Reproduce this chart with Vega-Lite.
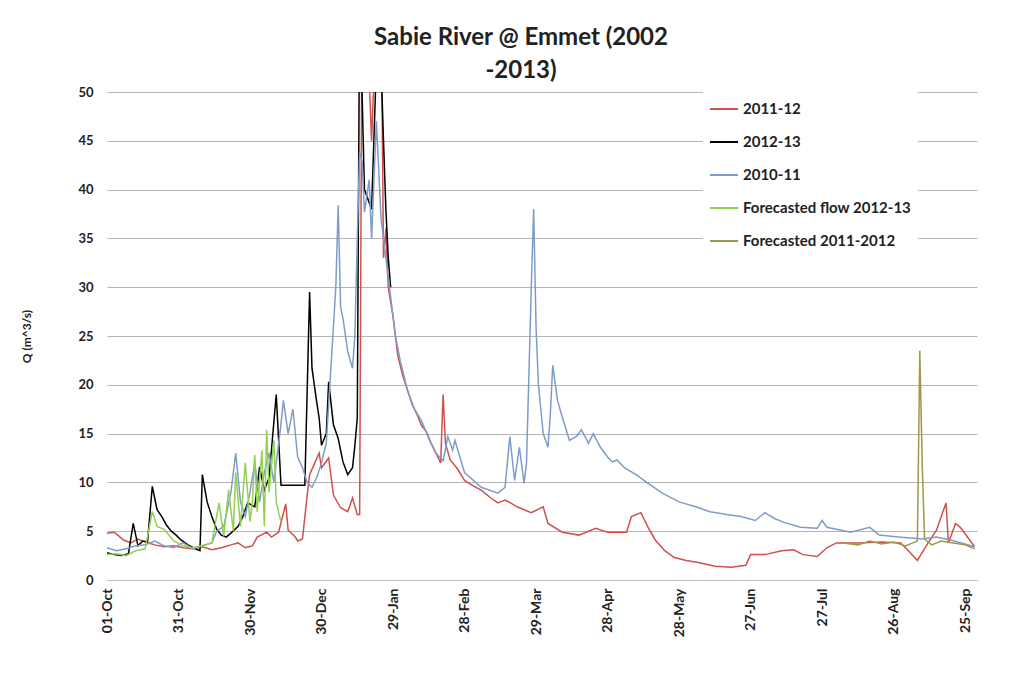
{
  "$schema": "https://vega.github.io/schema/vega-lite/v6.json",
  "width": 870,
  "height": 488,
  "autosize": {"type": "none"},
  "padding": {"left": 107, "top": 92, "right": 39, "bottom": 93},
  "background": "white",
  "title": {
    "text": ["Sabie River @ Emmet (2002", "-2013)"],
    "font": "Lato",
    "fontSize": 24,
    "fontWeight": "bold",
    "color": "#222222",
    "lineHeight": 33,
    "anchor": "middle",
    "dx": -21,
    "offset": 3
  },
  "data": {
    "values": [
      {"d":0,"q":4.8,"s":"2011-12"},{"d":3,"q":4.9,"s":"2011-12"},{"d":5,"q":4.5,"s":"2011-12"},{"d":7,"q":4.1,"s":"2011-12"},{"d":10,"q":3.8,"s":"2011-12"},{"d":13,"q":4.2,"s":"2011-12"},{"d":16,"q":3.9,"s":"2011-12"},{"d":20,"q":3.6,"s":"2011-12"},{"d":24,"q":3.4,"s":"2011-12"},{"d":28,"q":3.5,"s":"2011-12"},{"d":32,"q":3.3,"s":"2011-12"},{"d":36,"q":3.2,"s":"2011-12"},{"d":40,"q":3.4,"s":"2011-12"},{"d":44,"q":3.1,"s":"2011-12"},{"d":48,"q":3.3,"s":"2011-12"},{"d":52,"q":3.6,"s":"2011-12"},{"d":55,"q":3.8,"s":"2011-12"},{"d":58,"q":3.3,"s":"2011-12"},{"d":61,"q":3.5,"s":"2011-12"},{"d":63,"q":4.4,"s":"2011-12"},{"d":67,"q":4.9,"s":"2011-12"},{"d":69,"q":4.4,"s":"2011-12"},{"d":72,"q":4.9,"s":"2011-12"},{"d":75,"q":7.8,"s":"2011-12"},{"d":76,"q":5.1,"s":"2011-12"},{"d":79,"q":4.4,"s":"2011-12"},{"d":80,"q":4.0,"s":"2011-12"},{"d":82,"q":4.2,"s":"2011-12"},{"d":84,"q":8.7,"s":"2011-12"},{"d":85,"q":10.8,"s":"2011-12"},{"d":89,"q":13,"s":"2011-12"},{"d":90,"q":11.5,"s":"2011-12"},{"d":93,"q":12.5,"s":"2011-12"},{"d":95,"q":8.7,"s":"2011-12"},{"d":98,"q":7.4,"s":"2011-12"},{"d":101,"q":7.0,"s":"2011-12"},{"d":103,"q":8.4,"s":"2011-12"},{"d":105,"q":6.7,"s":"2011-12"},{"d":106,"q":6.7,"s":"2011-12"},{"d":107,"q":60,"s":"2011-12"},{"d":109,"q":58,"s":"2011-12"},{"d":111,"q":45,"s":"2011-12"},{"d":113,"q":58,"s":"2011-12"},{"d":115,"q":60,"s":"2011-12"},{"d":116,"q":33,"s":"2011-12"},{"d":117,"q":36,"s":"2011-12"},{"d":118,"q":30,"s":"2011-12"},{"d":120,"q":27,"s":"2011-12"},{"d":122,"q":23,"s":"2011-12"},{"d":124,"q":21,"s":"2011-12"},{"d":126,"q":19.5,"s":"2011-12"},{"d":128,"q":18,"s":"2011-12"},{"d":130,"q":17,"s":"2011-12"},{"d":132,"q":15.8,"s":"2011-12"},{"d":134,"q":15.2,"s":"2011-12"},{"d":136,"q":14,"s":"2011-12"},{"d":138,"q":13,"s":"2011-12"},{"d":140,"q":12,"s":"2011-12"},{"d":141,"q":19,"s":"2011-12"},{"d":142,"q":14,"s":"2011-12"},{"d":144,"q":12.3,"s":"2011-12"},{"d":147,"q":11.4,"s":"2011-12"},{"d":150,"q":10.2,"s":"2011-12"},{"d":154,"q":9.6,"s":"2011-12"},{"d":157,"q":9.2,"s":"2011-12"},{"d":161,"q":8.4,"s":"2011-12"},{"d":164,"q":7.9,"s":"2011-12"},{"d":167,"q":8.2,"s":"2011-12"},{"d":170,"q":7.8,"s":"2011-12"},{"d":172,"q":7.5,"s":"2011-12"},{"d":178,"q":6.9,"s":"2011-12"},{"d":183,"q":7.5,"s":"2011-12"},{"d":185,"q":5.8,"s":"2011-12"},{"d":191,"q":4.9,"s":"2011-12"},{"d":198,"q":4.6,"s":"2011-12"},{"d":205,"q":5.3,"s":"2011-12"},{"d":210,"q":4.9,"s":"2011-12"},{"d":218,"q":4.9,"s":"2011-12"},{"d":220,"q":6.5,"s":"2011-12"},{"d":224,"q":6.9,"s":"2011-12"},{"d":227,"q":5.4,"s":"2011-12"},{"d":230,"q":4.1,"s":"2011-12"},{"d":234,"q":3.0,"s":"2011-12"},{"d":238,"q":2.3,"s":"2011-12"},{"d":243,"q":2.0,"s":"2011-12"},{"d":248,"q":1.8,"s":"2011-12"},{"d":255,"q":1.4,"s":"2011-12"},{"d":262,"q":1.3,"s":"2011-12"},{"d":268,"q":1.5,"s":"2011-12"},{"d":270,"q":2.6,"s":"2011-12"},{"d":276,"q":2.6,"s":"2011-12"},{"d":283,"q":3.0,"s":"2011-12"},{"d":288,"q":3.1,"s":"2011-12"},{"d":292,"q":2.6,"s":"2011-12"},{"d":298,"q":2.4,"s":"2011-12"},{"d":302,"q":3.3,"s":"2011-12"},{"d":306,"q":3.8,"s":"2011-12"},{"d":315,"q":3.8,"s":"2011-12"},{"d":325,"q":3.9,"s":"2011-12"},{"d":333,"q":3.8,"s":"2011-12"},{"d":337,"q":2.8,"s":"2011-12"},{"d":340,"q":2.0,"s":"2011-12"},{"d":342,"q":2.8,"s":"2011-12"},{"d":345,"q":4.0,"s":"2011-12"},{"d":348,"q":5.1,"s":"2011-12"},{"d":352,"q":7.9,"s":"2011-12"},{"d":353,"q":3.8,"s":"2011-12"},{"d":356,"q":5.8,"s":"2011-12"},{"d":358,"q":5.4,"s":"2011-12"},{"d":361,"q":4.4,"s":"2011-12"},{"d":364,"q":3.4,"s":"2011-12"},

      {"d":0,"q":2.8,"s":"2012-13"},{"d":3,"q":2.6,"s":"2012-13"},{"d":6,"q":2.5,"s":"2012-13"},{"d":9,"q":2.7,"s":"2012-13"},{"d":11,"q":5.8,"s":"2012-13"},{"d":13,"q":3.5,"s":"2012-13"},{"d":15,"q":4.0,"s":"2012-13"},{"d":17,"q":3.9,"s":"2012-13"},{"d":19,"q":9.6,"s":"2012-13"},{"d":21,"q":7.2,"s":"2012-13"},{"d":23,"q":6.5,"s":"2012-13"},{"d":25,"q":5.6,"s":"2012-13"},{"d":27,"q":5.0,"s":"2012-13"},{"d":29,"q":4.6,"s":"2012-13"},{"d":31,"q":4.1,"s":"2012-13"},{"d":34,"q":3.6,"s":"2012-13"},{"d":37,"q":3.2,"s":"2012-13"},{"d":39,"q":3.0,"s":"2012-13"},{"d":40,"q":10.8,"s":"2012-13"},{"d":42,"q":8.0,"s":"2012-13"},{"d":44,"q":6.5,"s":"2012-13"},{"d":46,"q":5.2,"s":"2012-13"},{"d":48,"q":4.6,"s":"2012-13"},{"d":50,"q":4.4,"s":"2012-13"},{"d":52,"q":4.8,"s":"2012-13"},{"d":55,"q":5.5,"s":"2012-13"},{"d":57,"q":6.5,"s":"2012-13"},{"d":59,"q":7.9,"s":"2012-13"},{"d":62,"q":7.5,"s":"2012-13"},{"d":64,"q":11.6,"s":"2012-13"},{"d":66,"q":9.2,"s":"2012-13"},{"d":68,"q":10.5,"s":"2012-13"},{"d":71,"q":19,"s":"2012-13"},{"d":73,"q":9.7,"s":"2012-13"},{"d":83,"q":9.7,"s":"2012-13"},{"d":85,"q":29.5,"s":"2012-13"},{"d":86,"q":21.7,"s":"2012-13"},{"d":88,"q":18.2,"s":"2012-13"},{"d":89,"q":16.6,"s":"2012-13"},{"d":90,"q":13.8,"s":"2012-13"},{"d":92,"q":15,"s":"2012-13"},{"d":93,"q":20.3,"s":"2012-13"},{"d":95,"q":15.9,"s":"2012-13"},{"d":97,"q":14.5,"s":"2012-13"},{"d":99,"q":12.1,"s":"2012-13"},{"d":101,"q":10.8,"s":"2012-13"},{"d":103,"q":11.5,"s":"2012-13"},{"d":104,"q":13.8,"s":"2012-13"},{"d":105,"q":16.6,"s":"2012-13"},{"d":106,"q":60,"s":"2012-13"},{"d":108,"q":40,"s":"2012-13"},{"d":111,"q":38,"s":"2012-13"},{"d":114,"q":60,"s":"2012-13"},{"d":116,"q":45,"s":"2012-13"},{"d":117,"q":38,"s":"2012-13"},{"d":118,"q":33,"s":"2012-13"},{"d":119,"q":30,"s":"2012-13"},

      {"d":0,"q":3.3,"s":"2010-11"},{"d":4,"q":3.0,"s":"2010-11"},{"d":8,"q":3.2,"s":"2010-11"},{"d":12,"q":3.5,"s":"2010-11"},{"d":16,"q":3.6,"s":"2010-11"},{"d":20,"q":4.0,"s":"2010-11"},{"d":24,"q":3.5,"s":"2010-11"},{"d":28,"q":3.3,"s":"2010-11"},{"d":32,"q":3.8,"s":"2010-11"},{"d":36,"q":3.2,"s":"2010-11"},{"d":40,"q":3.5,"s":"2010-11"},{"d":44,"q":3.8,"s":"2010-11"},{"d":46,"q":5.0,"s":"2010-11"},{"d":49,"q":5.5,"s":"2010-11"},{"d":52,"q":9.0,"s":"2010-11"},{"d":54,"q":13,"s":"2010-11"},{"d":56,"q":8.0,"s":"2010-11"},{"d":58,"q":6.5,"s":"2010-11"},{"d":60,"q":9.0,"s":"2010-11"},{"d":62,"q":12,"s":"2010-11"},{"d":64,"q":8.0,"s":"2010-11"},{"d":66,"q":11,"s":"2010-11"},{"d":68,"q":13,"s":"2010-11"},{"d":70,"q":10,"s":"2010-11"},{"d":73,"q":16,"s":"2010-11"},{"d":74,"q":18.4,"s":"2010-11"},{"d":76,"q":15,"s":"2010-11"},{"d":78,"q":17.5,"s":"2010-11"},{"d":80,"q":12.6,"s":"2010-11"},{"d":82,"q":11.5,"s":"2010-11"},{"d":84,"q":10,"s":"2010-11"},{"d":86,"q":9.5,"s":"2010-11"},{"d":88,"q":10.5,"s":"2010-11"},{"d":90,"q":12,"s":"2010-11"},{"d":92,"q":14,"s":"2010-11"},{"d":94,"q":22,"s":"2010-11"},{"d":96,"q":30,"s":"2010-11"},{"d":97,"q":38.4,"s":"2010-11"},{"d":98,"q":28,"s":"2010-11"},{"d":99,"q":26.8,"s":"2010-11"},{"d":101,"q":23.4,"s":"2010-11"},{"d":103,"q":21.7,"s":"2010-11"},{"d":104,"q":25,"s":"2010-11"},{"d":105,"q":35,"s":"2010-11"},{"d":106,"q":43.8,"s":"2010-11"},{"d":107,"q":43,"s":"2010-11"},{"d":108,"q":37.7,"s":"2010-11"},{"d":110,"q":41,"s":"2010-11"},{"d":111,"q":35,"s":"2010-11"},{"d":113,"q":47,"s":"2010-11"},{"d":115,"q":37,"s":"2010-11"},{"d":117,"q":33,"s":"2010-11"},{"d":119,"q":29,"s":"2010-11"},{"d":121,"q":25,"s":"2010-11"},{"d":123,"q":22.5,"s":"2010-11"},{"d":126,"q":19.5,"s":"2010-11"},{"d":129,"q":17.5,"s":"2010-11"},{"d":132,"q":16.3,"s":"2010-11"},{"d":135,"q":14.5,"s":"2010-11"},{"d":138,"q":13,"s":"2010-11"},{"d":141,"q":12.2,"s":"2010-11"},{"d":143,"q":14.7,"s":"2010-11"},{"d":145,"q":13.3,"s":"2010-11"},{"d":146,"q":14.3,"s":"2010-11"},{"d":150,"q":11,"s":"2010-11"},{"d":157,"q":9.5,"s":"2010-11"},{"d":164,"q":8.9,"s":"2010-11"},{"d":167,"q":9.5,"s":"2010-11"},{"d":169,"q":14.7,"s":"2010-11"},{"d":171,"q":10.2,"s":"2010-11"},{"d":173,"q":13.6,"s":"2010-11"},{"d":175,"q":9.9,"s":"2010-11"},{"d":176,"q":12,"s":"2010-11"},{"d":178,"q":30,"s":"2010-11"},{"d":179,"q":38,"s":"2010-11"},{"d":180,"q":26,"s":"2010-11"},{"d":181,"q":20,"s":"2010-11"},{"d":183,"q":15,"s":"2010-11"},{"d":185,"q":13.6,"s":"2010-11"},{"d":186,"q":17,"s":"2010-11"},{"d":187,"q":22,"s":"2010-11"},{"d":189,"q":18.4,"s":"2010-11"},{"d":191,"q":16.7,"s":"2010-11"},{"d":194,"q":14.3,"s":"2010-11"},{"d":197,"q":14.7,"s":"2010-11"},{"d":199,"q":15.4,"s":"2010-11"},{"d":202,"q":14,"s":"2010-11"},{"d":204,"q":15,"s":"2010-11"},{"d":207,"q":13.6,"s":"2010-11"},{"d":210,"q":12.6,"s":"2010-11"},{"d":212,"q":12.1,"s":"2010-11"},{"d":214,"q":12.3,"s":"2010-11"},{"d":217,"q":11.5,"s":"2010-11"},{"d":222,"q":10.8,"s":"2010-11"},{"d":227,"q":9.9,"s":"2010-11"},{"d":233,"q":8.9,"s":"2010-11"},{"d":240,"q":8.0,"s":"2010-11"},{"d":247,"q":7.5,"s":"2010-11"},{"d":253,"q":7.0,"s":"2010-11"},{"d":260,"q":6.7,"s":"2010-11"},{"d":266,"q":6.5,"s":"2010-11"},{"d":272,"q":6.1,"s":"2010-11"},{"d":276,"q":6.9,"s":"2010-11"},{"d":280,"q":6.3,"s":"2010-11"},{"d":284,"q":5.9,"s":"2010-11"},{"d":291,"q":5.4,"s":"2010-11"},{"d":298,"q":5.3,"s":"2010-11"},{"d":300,"q":6.1,"s":"2010-11"},{"d":302,"q":5.4,"s":"2010-11"},{"d":312,"q":4.9,"s":"2010-11"},{"d":320,"q":5.4,"s":"2010-11"},{"d":324,"q":4.6,"s":"2010-11"},{"d":332,"q":4.4,"s":"2010-11"},{"d":337,"q":4.3,"s":"2010-11"},{"d":342,"q":4.2,"s":"2010-11"},{"d":348,"q":4.4,"s":"2010-11"},{"d":354,"q":4.1,"s":"2010-11"},{"d":364,"q":3.4,"s":"2010-11"},

      {"d":0,"q":2.6,"s":"Forecasted flow 2012-13"},{"d":4,"q":2.7,"s":"Forecasted flow 2012-13"},{"d":8,"q":2.5,"s":"Forecasted flow 2012-13"},{"d":12,"q":3.0,"s":"Forecasted flow 2012-13"},{"d":16,"q":3.2,"s":"Forecasted flow 2012-13"},{"d":19,"q":7.0,"s":"Forecasted flow 2012-13"},{"d":21,"q":5.5,"s":"Forecasted flow 2012-13"},{"d":24,"q":5.2,"s":"Forecasted flow 2012-13"},{"d":28,"q":4.0,"s":"Forecasted flow 2012-13"},{"d":32,"q":3.5,"s":"Forecasted flow 2012-13"},{"d":36,"q":3.3,"s":"Forecasted flow 2012-13"},{"d":40,"q":3.5,"s":"Forecasted flow 2012-13"},{"d":44,"q":3.8,"s":"Forecasted flow 2012-13"},{"d":47,"q":7.9,"s":"Forecasted flow 2012-13"},{"d":49,"q":4.5,"s":"Forecasted flow 2012-13"},{"d":51,"q":9.2,"s":"Forecasted flow 2012-13"},{"d":53,"q":5.0,"s":"Forecasted flow 2012-13"},{"d":54,"q":11,"s":"Forecasted flow 2012-13"},{"d":56,"q":5.5,"s":"Forecasted flow 2012-13"},{"d":58,"q":12,"s":"Forecasted flow 2012-13"},{"d":60,"q":6.0,"s":"Forecasted flow 2012-13"},{"d":61,"q":8.0,"s":"Forecasted flow 2012-13"},{"d":62,"q":12.8,"s":"Forecasted flow 2012-13"},{"d":63,"q":7.0,"s":"Forecasted flow 2012-13"},{"d":65,"q":13.3,"s":"Forecasted flow 2012-13"},{"d":66,"q":5.5,"s":"Forecasted flow 2012-13"},{"d":67,"q":15.4,"s":"Forecasted flow 2012-13"},{"d":68,"q":9.0,"s":"Forecasted flow 2012-13"},{"d":70,"q":14.3,"s":"Forecasted flow 2012-13"},{"d":71,"q":8.0,"s":"Forecasted flow 2012-13"},{"d":72,"q":6.9,"s":"Forecasted flow 2012-13"},{"d":73,"q":6.0,"s":"Forecasted flow 2012-13"},

      {"d":309,"q":3.8,"s":"Forecasted 2011-2012"},{"d":315,"q":3.6,"s":"Forecasted 2011-2012"},{"d":320,"q":4.0,"s":"Forecasted 2011-2012"},{"d":325,"q":3.7,"s":"Forecasted 2011-2012"},{"d":330,"q":3.9,"s":"Forecasted 2011-2012"},{"d":335,"q":3.5,"s":"Forecasted 2011-2012"},{"d":338,"q":3.8,"s":"Forecasted 2011-2012"},{"d":340,"q":4.0,"s":"Forecasted 2011-2012"},{"d":341,"q":23.5,"s":"Forecasted 2011-2012"},{"d":342,"q":12,"s":"Forecasted 2011-2012"},{"d":343,"q":4.2,"s":"Forecasted 2011-2012"},{"d":346,"q":3.6,"s":"Forecasted 2011-2012"},{"d":350,"q":4.0,"s":"Forecasted 2011-2012"},{"d":355,"q":3.8,"s":"Forecasted 2011-2012"},{"d":360,"q":3.6,"s":"Forecasted 2011-2012"},{"d":364,"q":3.2,"s":"Forecasted 2011-2012"}
    ]
  },
  "mark": {"type": "line", "strokeWidth": 1.5, "clip": true, "interpolate": "linear"},
  "encoding": {
    "x": {
      "field": "d",
      "type": "quantitative",
      "scale": {"domain": [0, 365], "nice": false, "zero": false},
      "axis": {
        "values": [0, 30, 60, 90, 120, 150, 180, 210, 240, 270, 300, 330, 360],
        "labelExpr": "['01-Oct','31-Oct','30-Nov','30-Dec','29-Jan','28-Feb','29-Mar','28-Apr','28-May','27-Jun','27-Jul','26-Aug','25-Sep'][round(datum.value/30)]",
        "labelAngle": -90,
        "labelFont": "Lato",
        "labelFontSize": 14,
        "labelFontWeight": "bold",
        "labelColor": "#222222",
        "labelPadding": 8,
        "grid": false,
        "ticks": false,
        "domain": true,
        "domainColor": "#bdbdbd",
        "title": null
      }
    },
    "y": {
      "field": "q",
      "type": "quantitative",
      "scale": {"domain": [0, 50], "nice": false},
      "axis": {
        "values": [0, 5, 10, 15, 20, 25, 30, 35, 40, 45, 50],
        "labelFont": "Lato",
        "labelFontSize": 13,
        "labelFontWeight": "bold",
        "labelColor": "#222222",
        "labelPadding": 14,
        "grid": true,
        "gridColor": "#b5b5b5",
        "gridWidth": 1,
        "ticks": false,
        "domain": false,
        "title": "Q (m^3/s)",
        "titleFont": "Lato",
        "titleFontSize": 12,
        "titleFontWeight": "bold",
        "titleColor": "#222222",
        "titlePadding": 44
      }
    },
    "color": {
      "field": "s",
      "type": "nominal",
      "scale": {
        "domain": ["2011-12", "2012-13", "2010-11", "Forecasted flow 2012-13", "Forecasted 2011-2012"],
        "range": ["#d0504d", "#000000", "#7f9cc9", "#92d050", "#9c9a4a"]
      },
      "legend": {
        "title": null,
        "orient": "none",
        "legendX": 596,
        "legendY": -4,
        "direction": "vertical",
        "fillColor": "white",
        "padding": 6,
        "symbolType": "stroke",
        "symbolSize": 784,
        "symbolStrokeWidth": 2,
        "rowPadding": 10,
        "labelOffset": 4,
        "labelFont": "Lato",
        "labelFontSize": 15,
        "labelFontWeight": "bold",
        "labelColor": "#222222",
        "labelLimit": 300
      }
    }
  },
  "config": {
    "view": {"stroke": null}
  }
}
